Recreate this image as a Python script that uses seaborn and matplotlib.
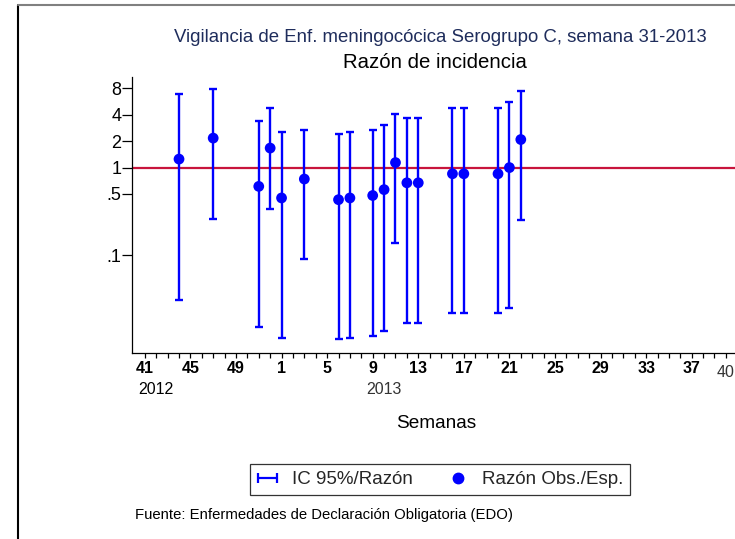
import numpy as np
import pandas as pd
import matplotlib
matplotlib.use("Agg")
import matplotlib.pyplot as plt
from matplotlib.lines import Line2D
import seaborn as sns

# ---- data ----
weeks = [44, 47, 51, 52, 1, 3, 6, 7, 9, 10, 11, 12, 13, 16, 17, 20, 21, 22]
years = [2012, 2012, 2012, 2012] + [2013] * 14
ratio = [1.25, 2.17, 0.61, 1.67, 0.45, 0.74, 0.43, 0.45, 0.48, 0.56, 1.14,
         0.67, 0.67, 0.85, 0.85, 0.85, 1.0, 2.09]
upper = [6.9, 7.85, 3.4, 4.85, 2.55, 2.7, 2.4, 2.55, 2.65, 3.1, 4.1,
         3.7, 3.7, 4.75, 4.75, 4.75, 5.6, 7.5]
lower = [0.031, 0.26, 0.0153, 0.34, 0.0114, 0.091, 0.0109, 0.0114, 0.012,
         0.0138, 0.136, 0.0169, 0.0169, 0.0216, 0.0216, 0.0216, 0.025, 0.25]
tick_weeks = [41, 45, 49, 1, 5, 9, 13, 17, 21, 25, 29, 33, 37]
tick_years = [2012, 2012, 2012] + [2013] * 10
ytick_vals = [8, 4, 2, 1, 0.5, 0.1]
ytick_labels = ["8", "4", "2", "1", ".5", ".1"]

title1 = "Vigilancia de Enf. meningocócica Serogrupo C, semana 31-2013"
title2 = "Razón de incidencia"
xlabel = "Semanas"
source = "Fuente: Enfermedades de Declaración Obligatoria (EDO)"


def pos(w, y):
    return w - 52 if y == 2012 else w


df = pd.DataFrame({"t": [pos(w, y) for w, y in zip(weeks, years)],
                   "ratio": ratio, "lower": lower, "upper": upper})

sns.set_theme(style="white")
plt.rcParams["font.family"] = ["Liberation Sans", "DejaVu Sans"]

W, H = 735, 539
fig = plt.figure(figsize=(W / 100, H / 100), dpi=100)
ax = fig.add_axes([132.3 / W, 1 - 352.7 / H, 1 - 132.3 / W, (352.7 - 76.7) / H])

blue = "#0000ff"
red = "#c8143c"

ax.axhline(1, color=red, lw=1.6, zorder=1)
ax.errorbar(df["t"], df["ratio"],
            yerr=[df["ratio"] - df["lower"], df["upper"] - df["ratio"]],
            fmt="none", ecolor=blue, elinewidth=1.7, capsize=3.2, capthick=1.7,
            zorder=2)
sns.scatterplot(data=df, x="t", y="ratio", ax=ax, color=blue, s=60,
                edgecolor="none", zorder=3, legend=False)

ax.set_yscale("log")
ax.set_ylim(0.0077, 10.9)
ax.set_xlim(-12.1, 40.8)

ax.set_yticks(ytick_vals)
ax.set_yticklabels(ytick_labels, fontsize=13)
ax.yaxis.set_minor_locator(matplotlib.ticker.NullLocator())

tpos = [pos(w, y) for w, y in zip(tick_weeks, tick_years)]
ax.set_xticks(tpos)
ax.set_xticklabels([str(w) for w in tick_weeks], fontsize=11.5, fontweight="bold")
ax.set_xticks(np.arange(-11, 41), minor=True)
ax.tick_params(axis="y", which="major", direction="out", length=7, width=0.9,
               pad=1, left=True, colors="black")
ax.tick_params(axis="x", which="both", direction="out", length=3.5, width=0.9,
               pad=2.5, bottom=True, colors="black")
ax.set_xlabel("")
ax.set_ylabel("")
for s in ["top", "right"]:
    ax.spines[s].set_visible(False)
for s in ["left", "bottom"]:
    ax.spines[s].set_color("black")
    ax.spines[s].set_linewidth(0.9)

# extra labels below axis
ax.text(40, -0.043, "40", transform=ax.get_xaxis_transform(), ha="center",
        va="top", fontsize=11.5, color="#333333")
ax.text(pos(42, 2012), -0.105, "2012", transform=ax.get_xaxis_transform(),
        ha="center", va="top", fontsize=11.5, color="black")
ax.text(pos(10, 2013), -0.105, "2013", transform=ax.get_xaxis_transform(),
        ha="center", va="top", fontsize=11.5, color="#333333")

fig.text(440 / W, 1 - 37 / H, title1, ha="center", va="center",
         fontsize=13.4, color="#1f2d5c")
fig.text(435 / W, 1 - 62 / H, title2, ha="center", va="center",
         fontsize=14.7, color="black")
fig.text(436 / W, 1 - 423 / H, xlabel, ha="center", va="center",
         fontsize=13.7, color="black")
fig.text(135 / W, 1 - 515 / H, source, ha="left", va="center",
         fontsize=10.7, color="black")

# legend
h_err = ax.errorbar([np.nan], [np.nan], xerr=[1], fmt="none", ecolor=blue,
                    elinewidth=1.6, capsize=3.5, capthick=1.6)
h_pt = Line2D([], [], color=blue, marker="o", linestyle="none", markersize=7.5)
leg = fig.legend([h_err, h_pt], ["IC 95%/Razón", "Razón Obs./Esp."],
                 loc="center", bbox_to_anchor=(440 / W, 1 - 479.5 / H),
                 ncol=2, frameon=True, fancybox=False, fontsize=13.5,
                 handlelength=1.2, columnspacing=1.8, borderpad=0.35,
                 handletextpad=0.7, borderaxespad=0)
leg.get_frame().set_edgecolor("black")
leg.get_frame().set_linewidth(0.9)

# outer frame lines
fig.add_artist(Line2D([18 / W, 18 / W], [0, 1 - 5 / H], transform=fig.transFigure,
                      color="black", lw=1.5))
fig.add_artist(Line2D([18 / W, 1], [1 - 5 / H, 1 - 5 / H], transform=fig.transFigure,
                      color="#808080", lw=1.5))

fig.savefig("out.png", dpi=100)
